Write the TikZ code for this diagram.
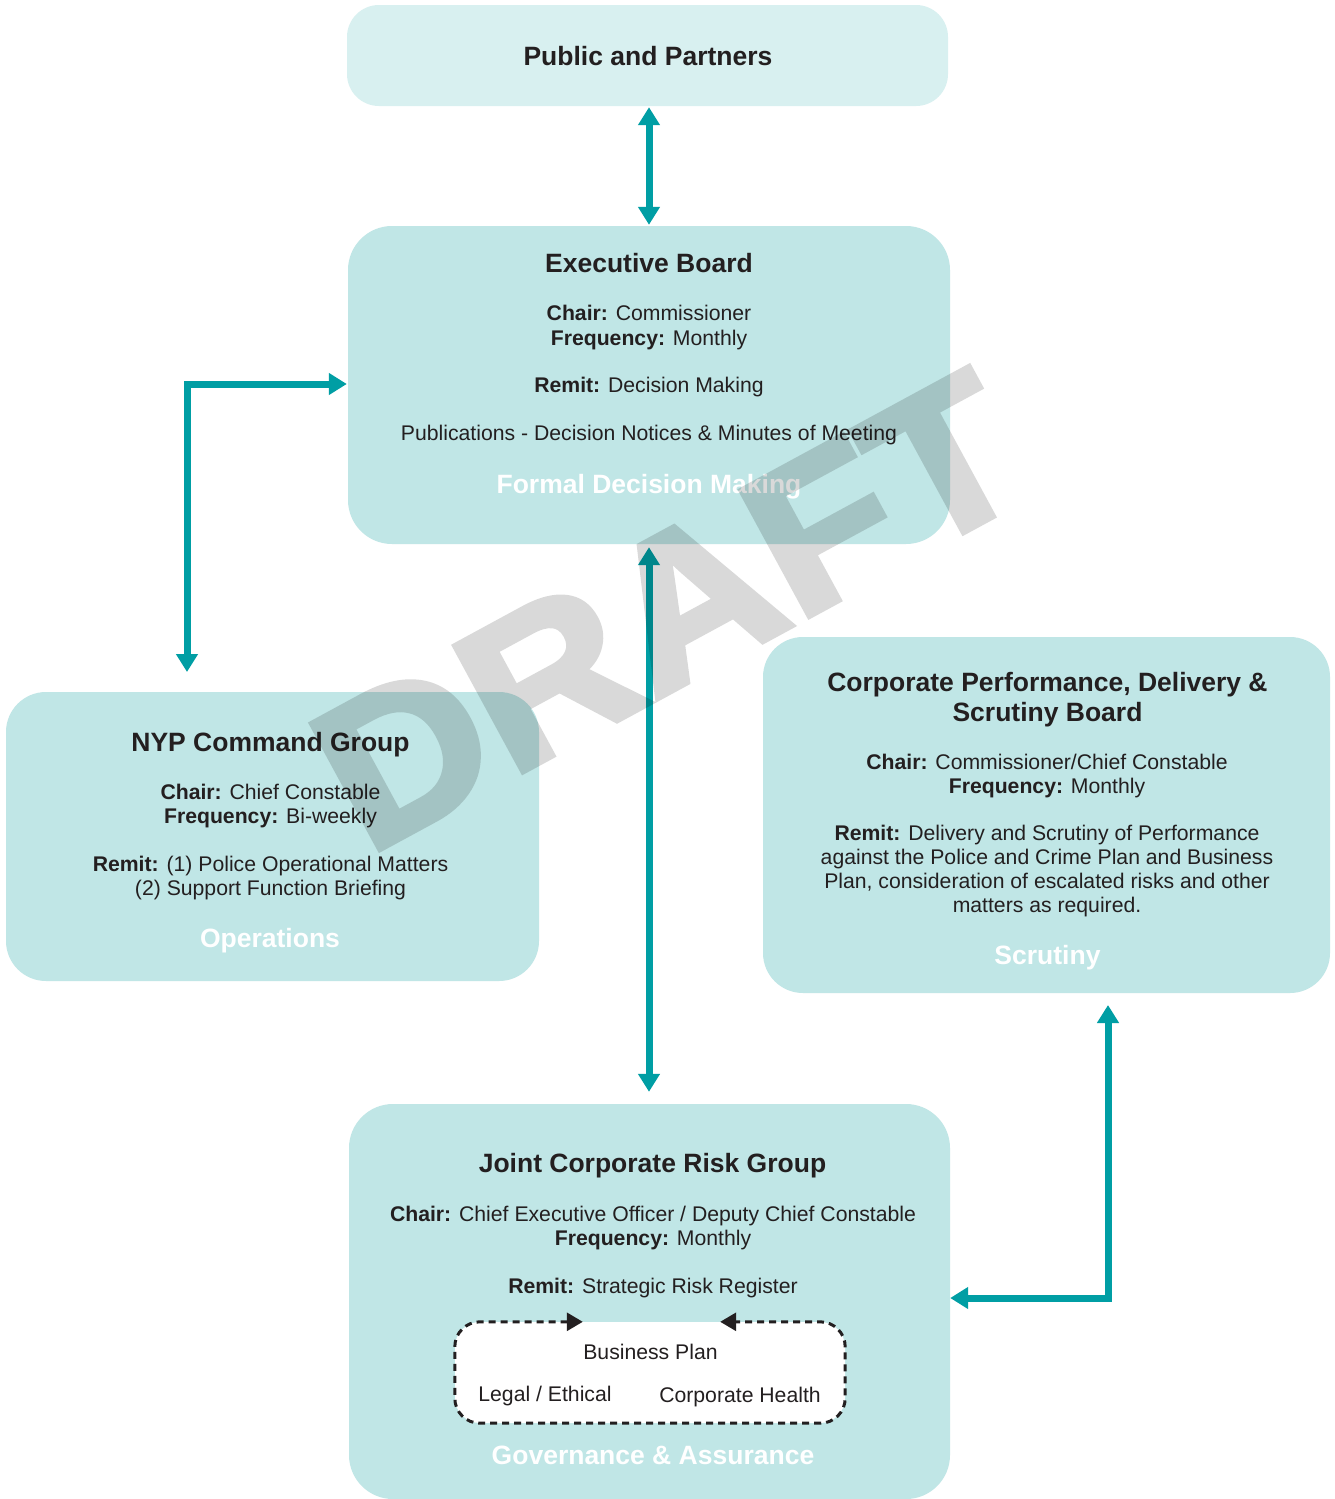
\documentclass[tikz,border=0pt]{standalone}
\usepackage{fontspec}
\setmainfont{Liberation Sans}
\newfontfamily\draftfont{Liberation Sans Bold}[FakeBold=3]
\usetikzlibrary{arrows.meta,calc}
\definecolor{boxc}{RGB}{192,230,230}
\definecolor{pubc}{RGB}{216,240,240}
\definecolor{arrc}{RGB}{0,158,164}
\definecolor{txtc}{RGB}{35,31,32}
\begin{document}
\begin{tikzpicture}[x=1pt,y=-1pt,
  boxn/.style={draw=none, fill=boxc, rounded corners=44pt, inner sep=0pt},
  ttl/.style={anchor=base, inner sep=0pt, text=txtc, font=\fontsize{26.5}{30}\selectfont\bfseries},
  bd/.style={anchor=base, inner sep=0pt, text=txtc, font=\fontsize{21.2}{25}\selectfont},
  sub/.style={anchor=base, inner sep=0pt, text=white, font=\fontsize{26.5}{30}\selectfont\bfseries},
  tarr/.style={draw=arrc, line width=7pt, line join=miter, {Triangle[width=21pt,length=18pt]}-{Triangle[width=21pt,length=18pt]}},
  darr/.style={draw=txtc, line width=3pt, dash pattern=on 7pt off 5pt, rounded corners=25pt, {Triangle[width=18pt,length=16pt]}-{Triangle[width=18pt,length=16pt]}}
]
\useasboundingbox (0,0) rectangle (1335,1499);
\fill[white] (0,0) rectangle (1335,1499);

% boxes
\node[boxn, fill=pubc, rounded corners=32pt, minimum width=601pt, minimum height=101pt] (pub) at (647.5,55.5) {};
\node[boxn, minimum width=602pt, minimum height=318pt] (exec) at (649,385) {};
\node[boxn, rounded corners=40pt, minimum width=533pt, minimum height=289pt] (nyp) at (272.5,836.5) {};
\node[boxn, rounded corners=40pt, minimum width=567pt, minimum height=356pt] (corp) at (1046.5,815) {};
\node[boxn, minimum width=601pt, minimum height=395pt] (joint) at (649.5,1301.5) {};
\node[draw=none, fill=white, rounded corners=25pt, inner sep=0pt, minimum width=390pt, minimum height=101pt] (inner) at (650,1372.5) {};

% Public and Partners
\node[ttl] (pubt) at (648,65.5) {Public and Partners};

% Executive Board
\node[ttl] (ext) at (649,272.5) {Executive Board};
\node[bd] (ex1) at (649,320.6) {\textbf{Chair:} Commissioner};
\node[bd] (ex2) at (649,345.6) {\textbf{Frequency:} Monthly};
\node[bd] (ex3) at (649,392.6) {\textbf{Remit:} Decision Making};
\node[bd] (ex4) at (649,440.6) {Publications - Decision Notices \& Minutes of Meeting};
\node[sub] (exs) at (649,493.5) {Formal Decision Making};

% NYP Command Group
\node[ttl] (nyt) at (270.5,751.5) {NYP Command Group};
\node[bd] (ny1) at (270.5,799.6) {\textbf{Chair:} Chief Constable};
\node[bd] (ny2) at (270.5,823.6) {\textbf{Frequency:} Bi-weekly};
\node[bd] (ny3) at (270.5,871.6) {\textbf{Remit:} (1) Police Operational Matters};
\node[bd] (ny4) at (270.5,895.6) {(2) Support Function Briefing};
\node[sub] (nys) at (270,947.5) {Operations};

% Corporate Performance
\node[ttl] (cot1) at (1047.5,691.5) {Corporate Performance, Delivery \&};
\node[ttl] (cot2) at (1047.5,721.5) {Scrutiny Board};
\node[bd] (co1) at (1047,769.6) {\textbf{Chair:} Commissioner/Chief Constable};
\node[bd] (co2) at (1047,793.6) {\textbf{Frequency:} Monthly};
\node[bd] (co3) at (1047,840.6) {\textbf{Remit:} Delivery and Scrutiny of Performance};
\node[bd] (co4) at (1047,864.6) {against the Police and Crime Plan and Business};
\node[bd] (co5) at (1047,888.6) {Plan, consideration of escalated risks and other};
\node[bd] (co6) at (1047,912.6) {matters as required.};
\node[sub] (cos) at (1047.5,964.5) {Scrutiny};

% Joint Corporate Risk Group
\node[ttl] (jot) at (652.5,1172.5) {Joint Corporate Risk Group};
\node[bd] (jo1) at (653,1221.6) {\textbf{Chair:} Chief Executive Officer / Deputy Chief Constable};
\node[bd] (jo2) at (653,1245.6) {\textbf{Frequency:} Monthly};
\node[bd] (jo3) at (653,1293.6) {\textbf{Remit:} Strategic Risk Register};
\node[bd] (jo4) at (650.5,1359.6) {Business Plan};
\node[bd] (jo5) at (545,1401.6) {Legal / Ethical};
\node[bd] (jo6) at (740,1402.6) {Corporate Health};
\node[sub] (jos) at (653,1464.5) {Governance \& Assurance};

% dashed loop
\draw[darr] ([xshift=128]inner.north west) -- (inner.north west) -- (inner.south west) -- (inner.south east) -- (inner.north east) -- ([xshift=-125]inner.north east);

% teal connectors (yshift is in canvas units: positive = up)
\coordinate (c2) at (187,672);
\coordinate (c4) at (1108,1005);
\draw[tarr] ([yshift=-1]pub.south -| exec.north) -- ([yshift=1]exec.north);
\draw[tarr] (c2) |- ([xshift=-1,yshift=1]exec.west);
\draw[tarr] ([yshift=-3]exec.south) -- ([yshift=12]joint.north -| exec.south);
\draw[tarr] (c4) |- ([yshift=3.5]joint.east);

% watermark
\begin{scope}[transparency group, opacity=0.15]
\node[inner sep=0pt, text=black, font=\draftfont\fontsize{207}{207}\selectfont, rotate=28.5, xscale=1.09] (draft) at (669,611) {DRAFT};
\end{scope}
\end{tikzpicture}
\end{document}
